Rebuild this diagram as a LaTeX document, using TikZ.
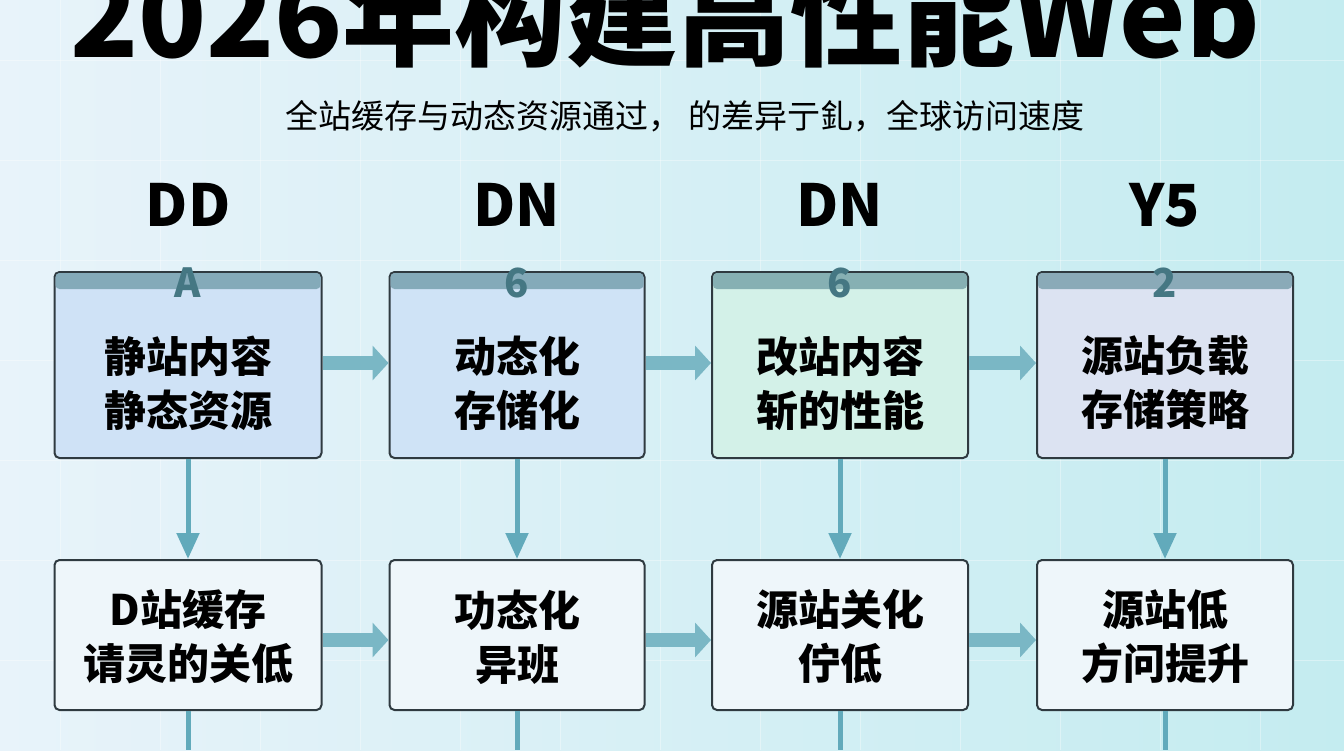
\documentclass[tikz,border=0pt]{standalone}
\usepackage{fontspec}
\setmainfont{Noto Sans CJK SC}
\usetikzlibrary{arrows.meta}
\definecolor{arr}{HTML}{62AABB}
\definecolor{bord}{HTML}{2F3A40}
\definecolor{bgl}{HTML}{E8F3FA}
\definecolor{bgr}{HTML}{C4ECF0}
\definecolor{botf}{HTML}{EEF6FA}
\tikzset{
 topbox/.style={draw=bord,line width=2pt,rounded corners=5pt,minimum width=#1,minimum height=186pt,inner sep=0pt},
 botbox/.style={draw=bord,line width=2pt,rounded corners=5pt,fill=botf,minimum height=150pt,inner sep=0pt},
 btxt/.style={font=\bfseries\fontsize{42}{54}\selectfont,align=center,text=black},
 hdr/.style={font=\bfseries\fontsize{58}{60}\selectfont},
 sym/.style={font=\bfseries\fontsize{40}{40}\selectfont,text=arr!70!black},
 harr/.style={-{Triangle[length=16pt,width=34pt]},line width=14pt,draw=arr!85!white},
 varr/.style={-{Triangle[length=26pt,width=22pt]},line width=5pt,draw=arr}
}
\begin{document}
\begin{tikzpicture}[x=1pt,y=-1pt]
\useasboundingbox (0,0) rectangle (1344,750);
\clip (0,0) rectangle (1344,750);
\shade[left color=bgl, right color=bgr] (0,0) rectangle (1344,750);
\foreach \g in {60,160,...,1344}{\draw[white,line width=0.6pt,opacity=.35] (\g,0)--(\g,750);}
\foreach \g in {60,160,...,750}{\draw[white,line width=0.6pt,opacity=.35] (0,\g)--(1344,\g);}
\node[font=\bfseries\fontsize{112}{112}\selectfont] (title) at (665,14) {2026年构建高性能Web};
\node[font=\fontsize{33}{36}\selectfont] (sub) at (685,116) {全站缓存与动态资源通过，\ 的差异亍釓，全球访问速度};
% top boxes
\foreach \n/\cx/\w/\col/\h/\s/\la/\lb in {
 1/188/267/CFE2F6/DD/A/静站内容/静态资源,
 2/517/255/CFE3F6/DN/6/动态化/存储化,
 3/840/256/D3F1E8/DN/6/改站内容/斩的性能,
 4/1165/256/DCE3F2/Y5/2/源站负载/存储策略}{
 \definecolor{bx}{HTML}{\col}
 \node[hdr] (h\n) at (\cx,205) {\h};
 \node[topbox=\w pt,fill=bx] (t\n) at (\cx,365) {};
 \fill[bx!75!black!60!arr,rounded corners=4pt] ([xshift=2pt,yshift=-2pt]t\n.north west) rectangle ([xshift=-2pt,yshift=-18pt]t\n.north east);
 \node[sym] (s\n) at (\cx,283) {\s};
 \node[btxt] (l\n) at (\cx,383) {\la\\\lb};
}
\foreach \n/\cx/\w/\la/\lb in {
 1/188/267/D站缓存/请灵的关低,
 2/517/255/功态化/异班,
 3/840/256/源站关化/佇低,
 4/1165/256/源站低/方问提升}{
 \node[botbox,minimum width=\w pt] (b\n) at (\cx,635) {};
 \node[btxt] (m\n) at (\cx,637) {\la\\\lb};
 \draw[varr] (t\n.south) -- (b\n.north);
 \coordinate (e\n) at (\cx,750);
 \draw[line width=5pt,draw=arr] (b\n.south) -- (e\n);
}
\foreach \a/\b in {1/2,2/3,3/4}{
 \draw[harr] ([yshift=2pt]t\a.east) -- ([yshift=2pt]t\b.west);
 \draw[harr] ([yshift=-5pt]b\a.east) -- ([yshift=-5pt]b\b.west);
}
\end{tikzpicture}
\end{document}
